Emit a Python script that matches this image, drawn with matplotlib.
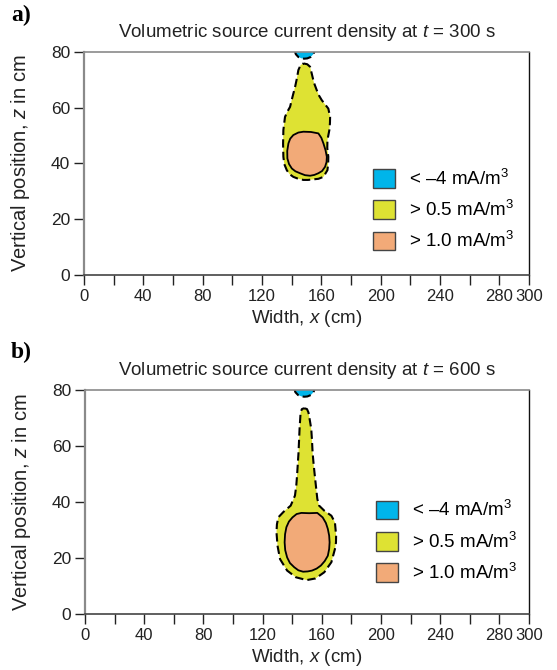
import matplotlib
matplotlib.use("Agg")
import matplotlib.pyplot as plt
from matplotlib.patches import Polygon, Patch

plt.rcParams["font.family"] = ["Liberation Sans", "DejaVu Sans"]
plt.rcParams["mathtext.fontset"] = "custom"
plt.rcParams["mathtext.rm"] = "Liberation Sans"
plt.rcParams["mathtext.it"] = "Liberation Sans:italic"

# ---- contour outlines (x in cm, z in cm) ----
# t = 300 s
yel_a_x = [147.9, 150.5, 152.4, 153.5, 155.0, 156.9, 158.5, 160.3, 162.5, 164.7, 165.9, 165.8, 165.4,
           164.1, 164.0, 164.7, 164.6, 164.1, 161.4, 158.0, 154.6, 151.0, 147.9, 144.5, 141.1, 138.5,
           136.7, 135.0, 134.4, 134.2, 134.4, 135.5, 137.0, 138.9, 140.5, 142.3, 143.5, 144.5, 146.0]
yel_a_z = [75.9, 75.6, 74.7, 72.3, 69.0, 66.3, 64.3, 62.7, 61.2, 59.7, 56.7, 54.5, 52.0,
           48.4, 45.5, 42.4, 40.0, 37.6, 35.2, 34.5, 34.3, 34.1, 34.1, 34.5, 35.2, 36.2,
           37.6, 39.8, 42.4, 47.0, 52.0, 56.7, 58.5, 60.3, 63.8, 67.5, 70.5, 73.5, 75.3]
org_a_x = [147.9, 153.0, 158.0, 160.0, 161.4, 162.8, 163.7, 163.5, 162.5, 160.5, 158.0, 155.3,
           152.4, 149.0, 145.6, 142.5, 140.1, 138.2, 137.1, 137.0, 137.8, 139.0, 141.1, 144.5]
org_a_z = [51.4, 51.3, 50.8, 49.2, 47.2, 44.8, 42.4, 40.5, 38.8, 37.3, 36.5, 35.9,
           35.6, 35.8, 36.5, 37.2, 38.2, 39.8, 41.8, 44.5, 47.2, 48.9, 50.2, 51.1]
blu_a_x = [142.0, 142.8, 144.5, 146.8, 148.5, 150.5, 152.8, 154.6, 155.6, 155.6, 142.0]
blu_a_z = [80.5, 79.2, 78.2, 77.7, 77.6, 77.7, 78.2, 79.2, 80.5, 82.0, 82.0]

# t = 600 s
yel_b_x = [148.1, 150.0, 151.0, 152.0, 152.9, 153.4, 153.8, 154.5, 155.3, 156.2, 157.0, 158.2, 161.7,
           166.5, 168.9, 169.7, 169.6, 168.9, 166.5, 161.7, 155.8, 149.8, 142.6, 136.6, 131.8, 130.1,
           129.4, 129.7, 130.6, 134.2, 139.0, 141.9, 142.8, 143.3, 144.3, 145.0, 145.4, 145.7, 146.6]
yel_b_z = [73.5, 73.2, 72.0, 69.0, 66.1, 62.0, 57.7, 53.5, 49.4, 45.0, 41.1, 38.7, 36.9,
           35.1, 32.7, 28.0, 25.5, 23.2, 18.5, 14.9, 12.7, 12.1, 13.1, 15.5, 19.6, 24.4,
           29.2, 32.0, 34.5, 36.5, 38.7, 42.3, 46.0, 49.4, 57.7, 66.1, 69.5, 72.0, 73.2]
org_b_x = [146.2, 151.5, 157.0, 160.6, 162.8, 164.1, 165.0, 165.3, 165.0, 164.1, 162.0, 159.4, 156.5,
           153.4, 150.5, 147.4, 144.2, 141.4, 138.5, 136.6, 135.3, 134.9, 135.2, 136.1, 137.8, 140.2, 143.0]
org_b_z = [36.1, 36.0, 36.1, 34.5, 32.5, 30.4, 28.0, 25.6, 23.2, 20.8, 18.9, 17.3, 16.2,
           15.5, 15.2, 15.1, 15.6, 16.7, 18.2, 20.2, 22.8, 25.6, 28.5, 31.0, 33.0, 34.5, 35.7]
blu_b_x = [141.4, 142.2, 144.0, 146.4, 148.3, 150.3, 152.6, 154.4, 155.3, 155.3, 141.4]
blu_b_z = [80.5, 79.2, 78.2, 77.7, 77.6, 77.7, 78.2, 79.2, 80.5, 82.0, 82.0]

times = [300, 600]
panel_tags = ["a)", "b)"]
legend_labels = ["< \u20134 mA/m$^3$", "> 0.5 mA/m$^3$", "> 1.0 mA/m$^3$"]
x_ticks = list(range(0, 301, 20))
x_ticklabels = [str(v) if (v % 40 == 0 or v == 300) else "" for v in x_ticks]
z_ticks = [0, 20, 40, 60, 80]

C_BLUE, C_YEL, C_ORG = "#00b5ea", "#dee233", "#f2aa78"
TXT = "#222222"

fig = plt.figure(figsize=(5.57, 6.70), dpi=100)
axes = [fig.add_axes([0.1508, 0.5896, 0.799, 0.3328]),
        fig.add_axes([0.1526, 0.0836, 0.797, 0.3343])]
shapes = [(yel_a_x, yel_a_z, org_a_x, org_a_z, blu_a_x, blu_a_z),
          (yel_b_x, yel_b_z, org_b_x, org_b_z, blu_b_x, blu_b_z)]
leg_anchor = [(0.649, 0.477), (0.656, 0.508)]
tag_y = [0.992, 0.49]

for ax, t, shp, anchor, tag, ty in zip(axes, times, shapes, leg_anchor, panel_tags, tag_y):
    yx, yz, ox, oz, bx, bz = shp
    dash = dict(linestyle=(0, (4, 2)), linewidth=1.5, edgecolor="black", joinstyle="round")
    ax.add_patch(Polygon(list(zip(yx, yz)), closed=True, facecolor=C_YEL, **dash))
    ax.add_patch(Polygon(list(zip(ox, oz)), closed=True, facecolor=C_ORG,
                         edgecolor="black", linewidth=1.3, joinstyle="round"))
    ax.add_patch(Polygon(list(zip(bx, bz)), closed=True, facecolor=C_BLUE, **dash))

    ax.set_xlim(0, 300)
    ax.set_ylim(0, 80)
    ax.set_xticks(x_ticks)
    ax.set_xticklabels(x_ticklabels)
    ax.set_yticks(z_ticks)
    ax.tick_params(axis="x", direction="out", length=7, width=1.0, pad=3,
                   labelsize=12, color=TXT, labelcolor=TXT)
    ax.tick_params(axis="y", direction="out", length=7, width=1.0, pad=3,
                   labelsize=12.5, color=TXT, labelcolor=TXT)
    for side, col, lw in [("left", "#8a8a8a", 1.6), ("top", "#8a8a8a", 1.2),
                          ("right", "#111111", 1.0), ("bottom", "#444444", 1.2)]:
        ax.spines[side].set_color(col)
        ax.spines[side].set_linewidth(lw)

    ax.set_title(f"Volumetric source current density at $t$ = {t} s",
                 fontsize=13.5, color=TXT, pad=11)
    ax.set_xlabel("Width, $x$ (cm)", fontsize=13.5, color=TXT, va="top")
    ax.xaxis.set_label_coords(0.5, -0.148)
    ax.set_ylabel("Vertical position, $z$ in cm", fontsize=14.5, color=TXT)
    ax.yaxis.set_label_coords(-0.117, 0.5)

    handles = [Patch(facecolor=c, edgecolor="#444444", linewidth=1.0)
               for c in (C_BLUE, C_YEL, C_ORG)]
    ax.legend(handles, legend_labels, loc="upper left", bbox_to_anchor=anchor,
              frameon=False, fontsize=13.5, handlelength=1.17, handleheight=1.17,
              labelspacing=0.6, handletextpad=0.75, borderpad=0, borderaxespad=0)

    fig.text(0.02, ty, tag, fontsize=17, fontweight="bold", family="Liberation Serif",
             va="top", ha="left")

fig.savefig("out.png", dpi=100)
